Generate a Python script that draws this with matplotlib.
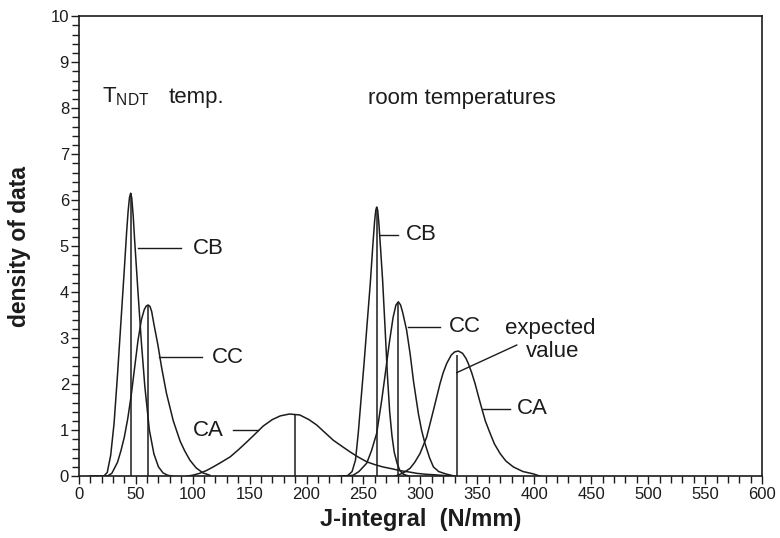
import numpy as np
import matplotlib
matplotlib.use("Agg")
import matplotlib.pyplot as plt
from matplotlib.ticker import MultipleLocator

plt.rcParams['font.family'] = ['Liberation Sans', 'DejaVu Sans']
plt.rcParams['mathtext.fontset'] = 'custom'
plt.rcParams['mathtext.rm'] = 'Liberation Sans'

# ---- data ----
# T_NDT temperature
cb_ndt_x = [10, 22, 25, 28, 31, 34, 37, 40, 42, 43.3, 44.5, 45.5, 46.5, 47.8, 49, 52, 55, 58, 62, 66, 70, 74, 78, 82]
cb_ndt_y = [0, 0, 0.08, 0.45, 1.15, 2.2, 3.35, 4.5, 5.3, 5.75, 6.05, 6.15, 6.05, 5.65, 5.15, 4.0, 2.9, 1.95, 1.0, 0.48, 0.2, 0.07, 0.02, 0]

cc_ndt_x = [10, 25, 29, 34, 37, 40, 43, 46, 49, 52, 55, 57.5, 59.3, 60.9, 62.5, 64, 66, 69.5, 72.6, 77, 83, 89, 93, 97.5, 103, 109, 115]
cc_ndt_y = [0, 0, 0.06, 0.3, 0.55, 0.85, 1.25, 1.75, 2.35, 2.95, 3.4, 3.62, 3.7, 3.72, 3.69, 3.58, 3.3, 2.85, 2.38, 1.8, 1.2, 0.76, 0.55, 0.35, 0.18, 0.07, 0.02]

ca_ndt_x = [95, 100, 106, 112, 118, 125, 133, 140, 147, 155, 162, 170, 177, 185, 194, 202, 209, 216, 223.5,
            231, 238, 245, 253, 260, 267, 275, 282, 290, 297, 305, 312, 320, 330]
ca_ndt_y = [0, 0.02, 0.06, 0.12, 0.2, 0.3, 0.42, 0.57, 0.73, 0.92, 1.09, 1.23, 1.31, 1.35, 1.33, 1.23, 1.11, 0.95, 0.78,
            0.65, 0.53, 0.42, 0.31, 0.25, 0.2, 0.16, 0.12, 0.09, 0.06, 0.04, 0.03, 0.015, 0]

# room temperatures
cb_room_x = [228, 236, 240, 243, 245.4, 247.8, 250.5, 253, 256, 258.3, 259.8, 260.8, 261.6, 262.5, 263.5, 265, 266.8, 269,
             271, 273, 275, 277, 279.5, 282, 285, 290]
cb_room_y = [0, 0.01, 0.1, 0.35, 0.93, 1.65, 2.45, 3.25, 4.2, 5.05, 5.55, 5.78, 5.85, 5.78, 5.5, 4.95, 4.26, 3.2,
             2.2, 1.4, 0.88, 0.52, 0.28, 0.12, 0.04, 0]

cc_room_x = [234, 241, 246, 252.8, 257, 261.6, 266, 269, 272.7, 276, 278.5, 280.6, 282.6, 284.5, 287.9, 291, 294, 298.2,
             301, 304, 308, 311.4, 316, 322, 330]
cc_room_y = [0, 0.02, 0.1, 0.28, 0.55, 0.93, 1.65, 2.2, 2.9, 3.45, 3.72, 3.79, 3.72, 3.55, 3.17, 2.65, 2.05, 1.36,
             1.0, 0.71, 0.4, 0.2, 0.1, 0.05, 0]

ca_room_x = [278, 285, 290.9, 295, 299.6, 305.5, 311.4, 317.2, 320, 323.1, 327, 330, 333.3, 337, 340, 342, 345, 348, 351, 353.9,
             357, 361.2, 365, 370, 375, 381.6, 390, 399, 405]
ca_room_y = [0, 0.07, 0.17, 0.3, 0.49, 0.85, 1.43, 2.01, 2.25, 2.45, 2.63, 2.7, 2.72, 2.67, 2.56, 2.45, 2.25, 2.01, 1.73, 1.47,
             1.2, 0.93, 0.7, 0.49, 0.33, 0.2, 0.1, 0.05, 0]

# expected values (vertical lines)
expected_x = [45.5, 60.9, 190, 261.6, 280, 332]
expected_h = [6.15, 3.72, 1.34, 5.85, 3.79, 2.63]

curves = [(cb_ndt_x, cb_ndt_y), (cc_ndt_x, cc_ndt_y), (ca_ndt_x, ca_ndt_y),
          (cb_room_x, cb_room_y), (cc_room_x, cc_room_y), (ca_room_x, ca_room_y)]

# labels with leader lines: (text, text x, text y, leader x0, leader x1, leader y)
labels = [
    ("CB", 100.5, 4.95, 52.1, 90.2, 4.95),
    ("CC", 116.8, 2.58, 70.6, 107.8, 2.58),
    ("CA", 100.0, 1.0, 135.6, 157.6, 1.0),
    ("CB", 287.5, 5.25, 264.5, 280.6, 5.25),
    ("CC", 324.8, 3.25, 289.4, 317.2, 3.25),
    ("CA", 384.8, 1.47, 355.3, 378.7, 1.47),
]

ink = '#1c1c1c'

fig = plt.figure(figsize=(7.8, 5.38), dpi=100)
ax = fig.add_axes([0.101, 0.115, 0.876, 0.855])

for xs, ys in curves:
    ax.plot(xs, ys, color=ink, lw=1.1, solid_joinstyle='round')

ax.vlines(expected_x, 0, expected_h, color=ink, lw=1.1)

for txt, tx, ty, x0, x1, y0 in labels:
    ax.plot([x0, x1], [y0, y0], color=ink, lw=1.0)
    ax.text(tx, ty, txt, fontsize=16, color=ink, ha='left', va='center')

# expected value pointer
ax.plot([331.9, 384.6], [2.25, 2.85], color=ink, lw=1.0)
ax.text(414, 3.22, "expected", fontsize=16, color=ink, ha='center', va='center')
ax.text(416, 2.72, "value", fontsize=16, color=ink, ha='center', va='center')

ax.text(20.2, 8.12, r"T$_{\mathrm{NDT}}$", fontsize=16, color=ink, ha='left', va='baseline')
ax.text(78.5, 8.12, "temp.", fontsize=16, color=ink, ha='left', va='baseline')
ax.text(254, 8.08, "room temperatures", fontsize=16, color=ink, ha='left', va='baseline')

ax.set_xlim(0, 600)
ax.set_ylim(0, 10)
ax.xaxis.set_major_locator(MultipleLocator(50))
ax.xaxis.set_minor_locator(MultipleLocator(10))
ax.yaxis.set_major_locator(MultipleLocator(1))
ax.yaxis.set_minor_locator(MultipleLocator(0.2))
ax.tick_params(axis='both', which='both', direction='out', color=ink, width=1.0, labelsize=12, labelcolor=ink)
ax.tick_params(axis='both', which='major', length=6)
ax.tick_params(axis='both', which='minor', length=5)
ax.tick_params(axis='y', pad=1)
ax.tick_params(axis='x', pad=2)
for s in ax.spines.values():
    s.set_linewidth(1.2)
    s.set_color(ink)

ax.set_xlabel("J-integral  (N/mm)", fontsize=17, fontweight='bold', color=ink, labelpad=4)
ax.set_ylabel("density of data", fontsize=16.5, fontweight='bold', color=ink, labelpad=14)

fig.savefig("out.png", dpi=100)
